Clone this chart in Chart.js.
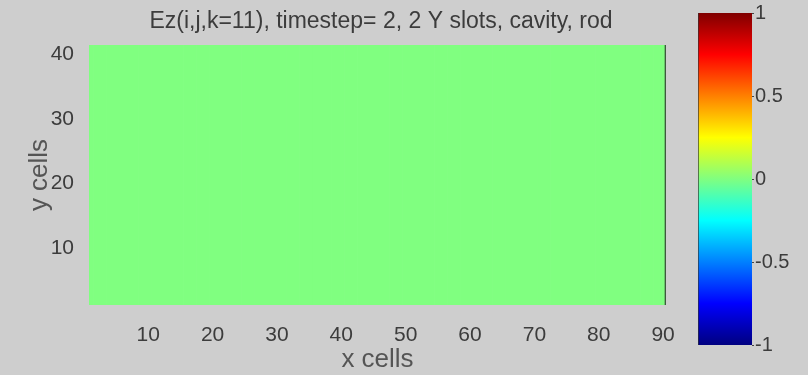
<!DOCTYPE html>
<html>
<head>
<meta charset="utf-8">
<script src="https://cdn.jsdelivr.net/npm/chart.js@4.4.1/dist/chart.umd.min.js"></script>
<style>
  html, body { margin: 0; padding: 0; background: #cecece; }
  #wrap { position: relative; width: 808px; height: 375px; }
  #wrap canvas { position: absolute; left: 0; top: 0; }
</style>
</head>
<body>
<div id="wrap">
  <canvas id="field" width="808" height="375"></canvas>
  <canvas id="cbar" width="808" height="375"></canvas>
</div>
<script>
  // Ez field at timestep 2: every column reads 0 (uniform green)
  var ezColumns = [
    0, 0, 0, 0, 0, 0, 0, 0, 0, 0, 0, 0, 0, 0, 0, 0, 0, 0, 0, 0, 0, 0, 0, 0, 0, 0, 0, 0, 0, 0,
    0, 0, 0, 0, 0, 0, 0, 0, 0, 0, 0, 0, 0, 0, 0, 0, 0, 0, 0, 0, 0, 0, 0, 0, 0, 0, 0, 0, 0, 0,
    0, 0, 0, 0, 0, 0, 0, 0, 0, 0, 0, 0, 0, 0, 0, 0, 0, 0, 0, 0, 0, 0, 0, 0, 0, 0, 0, 0, 0, 0
  ];
  var yCells = [0.5, 41.5];
  var xTicks = [10, 20, 30, 40, 50, 60, 70, 80, 90];
  var yTicks = [10, 20, 30, 40];
  var cbarTicks = [-1, -0.5, 0, 0.5, 1];
  var cbarRange = [-1, 1];

  var textColor = '#3c3c3c';
  var labelColor = '#555555';
  var fontFamily = '"Liberation Sans", Arial, sans-serif';

  // MATLAB jet colormap, t in [0,1]
  function jet(t) {
    function ch(x) { return Math.max(0, Math.min(1, 1.5 - Math.abs(4 * t - x))); }
    var r = ch(3), g = ch(2), b = ch(1);
    return 'rgb(' + Math.round(r * 255) + ',' + Math.round(g * 255) + ',' + Math.round(b * 255) + ')';
  }
  function valueColor(v) {
    return jet((v - cbarRange[0]) / (cbarRange[1] - cbarRange[0]));
  }

  var bars = ezColumns.map(function(v, i) {
    return { x: i + 1, y: yCells.slice() };
  });
  var lastCol = ezColumns.length - 1;

  new Chart(document.getElementById('field'), {
    type: 'bar',
    data: {
      datasets: [{
        data: bars,
        backgroundColor: ezColumns.map(valueColor),
        borderColor: ezColumns.map(function(v, i) { return i === lastCol ? '#3d5a3d' : 'rgba(0,0,0,0)'; }),
        borderWidth: ezColumns.map(function(v, i) { return i === lastCol ? { right: 2 } : 0; }),
        borderSkipped: false,
        barPercentage: 1,
        categoryPercentage: 1,
        grouped: false
      }]
    },
    options: {
      responsive: false,
      animation: false,
      events: [],
      // right padding keeps the title centred over the plot; spacer axis makes room for the colorbar
      layout: { padding: { left: 0, right: 46, top: 0, bottom: 0 } },
      plugins: {
        legend: { display: false },
        tooltip: { enabled: false },
        title: {
          display: true,
          text: 'Ez(i,j,k=11), timestep= 2, 2 Y slots, cavity, rod',
          color: textColor,
          font: { family: fontFamily, size: 23, weight: 'normal' },
          padding: { top: 8.2, bottom: 9.2 }
        }
      },
      scales: {
        x: {
          type: 'linear',
          offset: false,
          min: 0.8,
          max: 90.45,
          grid: { display: false },
          border: { display: false },
          afterBuildTicks: function(s) { s.ticks = xTicks.map(function(v) { return { value: v }; }); },
          afterFit: function(s) { s.height = 70; },
          ticks: { color: textColor, font: { family: fontFamily, size: 21 }, padding: 10, maxRotation: 0 },
          title: { display: true, text: 'x cells', color: labelColor, font: { family: fontFamily, size: 26 }, padding: 0 }
        },
        y: {
          type: 'linear',
          min: 1.1,
          max: 41.5,
          grid: { display: false },
          border: { display: false },
          afterBuildTicks: function(s) { s.ticks = yTicks.map(function(v) { return { value: v }; }); },
          afterFit: function(s) { s.width = 89; },
          ticks: { color: textColor, font: { family: fontFamily, size: 21 }, padding: 7 },
          title: { display: true, text: 'y cells', color: labelColor, font: { family: fontFamily, size: 26 }, padding: 24 }
        },
        spacer: {
          type: 'linear',
          position: 'right',
          grid: { display: false },
          border: { display: false },
          ticks: { display: false },
          afterFit: function(s) { s.width = 96; }
        }
      }
    }
  });

  new Chart(document.getElementById('cbar'), {
    type: 'bar',
    data: {
      labels: ['cbar'],
      datasets: [{
        data: [cbarRange.slice()],
        backgroundColor: function(ctx) {
          var area = ctx.chart.chartArea;
          if (!area) return '#80ff80';
          var g = ctx.chart.ctx.createLinearGradient(0, area.bottom, 0, area.top);
          for (var i = 0; i <= 16; i++) g.addColorStop(i / 16, jet(i / 16));
          return g;
        },
        borderWidth: { left: 1 },
        borderColor: '#333',
        borderSkipped: false,
        barPercentage: 1,
        categoryPercentage: 1
      }]
    },
    options: {
      responsive: false,
      animation: false,
      events: [],
      layout: { padding: { left: 698, right: 0, top: 13, bottom: 30 } },
      plugins: { legend: { display: false }, tooltip: { enabled: false } },
      scales: {
        x: { display: false },
        y: {
          position: 'right',
          min: cbarRange[0],
          max: cbarRange[1],
          grid: { display: true, drawOnChartArea: false, tickLength: 2, color: '#444' },
          border: { display: false },
          afterBuildTicks: function(s) { s.ticks = cbarTicks.map(function(v) { return { value: v }; }); },
          afterFit: function(s) { s.width = 56; },
          ticks: {
            color: textColor,
            font: { family: fontFamily, size: 20 },
            padding: 1,
            callback: function(v) { return String(v); }
          }
        }
      }
    }
  });
</script>
</body>
</html>
